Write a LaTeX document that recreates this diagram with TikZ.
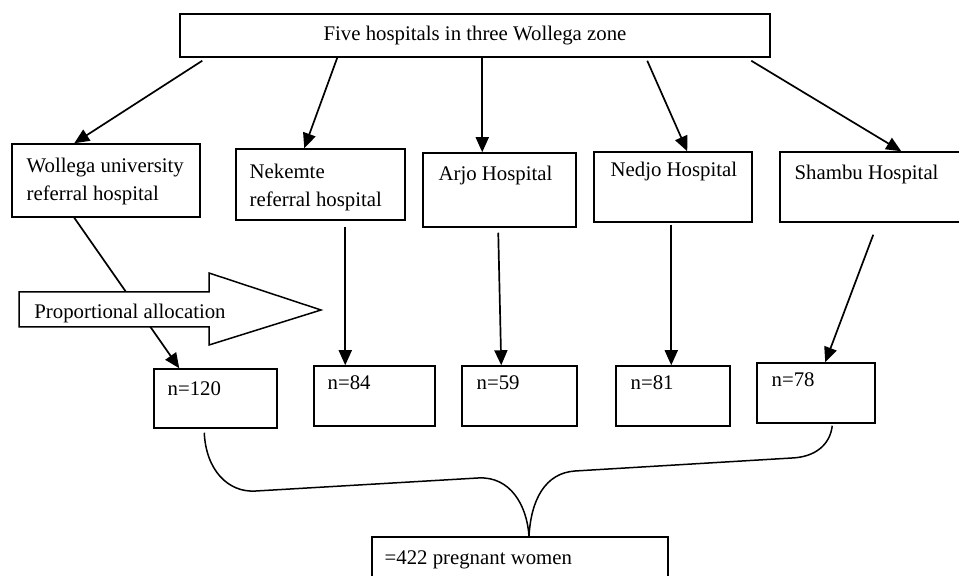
\documentclass[tikz,border=0pt]{standalone}
\usepackage{fontspec}
\setmainfont{Liberation Serif}
\usetikzlibrary{arrows.meta,calc,positioning}
\begin{document}
\begin{tikzpicture}[x=0.5pt,y=-0.5pt,font=\fontsize{10.4}{14}\selectfont]
  \tikzstyle{hbox}=[rectangle, draw, line width=0.75pt, inner sep=0pt]
  \tikzstyle{txt}=[inner sep=0pt, align=left]
  \tikzstyle{arr}=[line width=0.85pt, -{Triangle[length=7.5pt,width=6.5pt]}]
  \useasboundingbox (0,0) rectangle (959,576);
  % top box
  \node[hbox, minimum width=295pt, minimum height=21.5pt] (top) at (475,35.5) {Five hospitals in three Wollega zone};
  % hospitals
  \node[hbox, minimum width=94pt, minimum height=36.5pt] (wol) at (106,180.5) {};
  \node[hbox, minimum width=84.5pt, minimum height=35.5pt] (nek) at (320.5,184.5) {};
  \node[hbox, minimum width=76.5pt, minimum height=37pt] (arj) at (499.5,190) {};
  \node[hbox, minimum width=79pt, minimum height=35pt] (ned) at (673,187) {};
  \node[hbox, minimum width=91pt, minimum height=35pt] (sha) at (871,187) {};
  \node[txt, anchor=north west] (wolT) at ($(wol.north west)+(15,14)$) {Wollega university\\referral hospital};
  \node[txt, anchor=north west] (nekT) at ($(nek.north west)+(14,15)$) {Nekemte\\referral hospital};
  \node[txt, anchor=base west] (arjT) at ($(arj.north west)+(16,28)$) {Arjo Hospital};
  \node[txt, anchor=base west] (nedT) at ($(ned.north west)+(17,25)$) {Nedjo Hospital};
  \node[txt, anchor=base west] (shaT) at ($(sha.north west)+(15,28)$) {Shambu Hospital};
  % samples
  \node[hbox, minimum width=61.5pt, minimum height=29.5pt] (n120) at (215.5,398.5) {};
  \node[hbox, minimum width=60.5pt, minimum height=30pt] (n84) at (374.5,396) {};
  \node[hbox, minimum width=57.5pt, minimum height=30pt] (n59) at (519.5,396) {};
  \node[hbox, minimum width=57pt, minimum height=30pt] (n81) at (673,396) {};
  \node[hbox, minimum width=59pt, minimum height=30pt] (n78) at (816,393) {};
  \node[txt, anchor=base west] (n120T) at ($(n120.north west)+(14,27)$) {n=120};
  \node[txt, anchor=base west] (n84T) at ($(n84.north west)+(14,24)$) {n=84};
  \node[txt, anchor=base west] (n59T) at ($(n59.north west)+(15,24)$) {n=59};
  \node[txt, anchor=base west] (n81T) at ($(n81.north west)+(15,24)$) {n=81};
  \node[txt, anchor=base west] (n78T) at ($(n78.north west)+(15,24)$) {n=78};
  % total
  \node[hbox, minimum width=148pt, minimum height=21.5pt] (tot) at (520,558.5) {};
  \node[txt, anchor=base west] (totT) at ($(tot.north west)+(13,28)$) {=422 pregnant women};
  % arrows from the top
  \draw[arr] ($(top.south west)+(23,3)$) -- ($(wol.north west)+(63,0)$);
  \draw[arr] ($(top.south west)+(158,0)$) -- ($(nek.north west)+(69,0)$);
  \draw[arr] ($(top.south west)+(303,0)$) -- ($(arj.north west)+(60,0)$);
  \draw[arr] ($(top.south west)+(468,3)$) -- ($(ned.north west)+(94,0)$);
  \draw[arr] ($(top.south west)+(572,3)$) -- ($(sha.north west)+(122,0)$);
  % arrows down
  \draw[arr] ($(wol.south west)+(63,0)$) -- ($(n120.north west)+(26,0)$);
  \draw[arr] ($(nek.south west)+(110,6)$) -- ($(n84.north west)+(32,0)$);
  \draw[arr] ($(arj.south west)+(76,5)$) -- ($(n59.north west)+(40,0)$);
  \draw[arr] ($(ned.south west)+(78,2)$) -- ($(n81.north west)+(56,0)$);
  \draw[arr] ($(sha.south west)+(94,12)$) -- ($(n78.north west)+(69,0)$);
  % proportional allocation
  \draw[line width=0.75pt, fill=white] (19,292) -- (209,292) -- (209,273) -- (321,310)
    -- (209,345) -- (209,327) -- (19,327) -- cycle;
  \node[txt, anchor=base west] (pa) at (34,319) {Proportional allocation};
  % brace
  \draw[line width=0.75pt] ($(n120.south west)+(51,4)$) .. controls (206,470) and (228,493) .. (256,491)
    -- (478,478) .. controls (510,476) and (527,505) .. ($(tot.north)+(9,0)$);
  \draw[line width=0.75pt] ($(n78.south west)+(76,2)$) .. controls (830,445) and (815,457) .. (792,458)
    -- (575,471) .. controls (545,473) and (531,500) .. ($(tot.north)+(9,0)$);
\end{tikzpicture}
\end{document}
